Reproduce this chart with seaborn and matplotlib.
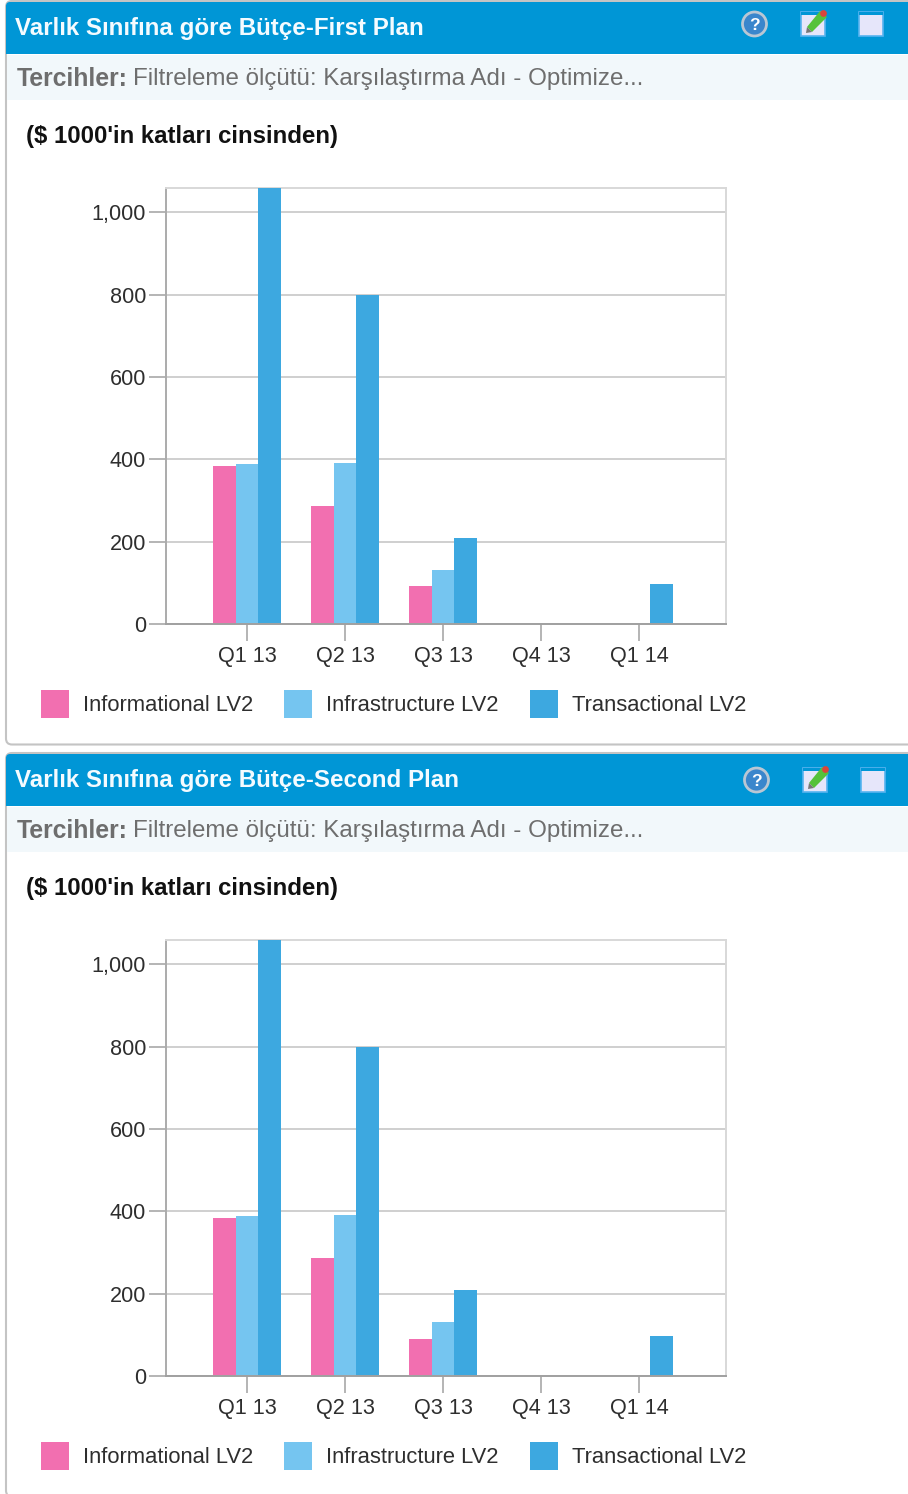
import matplotlib
matplotlib.use("Agg")
import matplotlib.pyplot as plt
from matplotlib.patches import Rectangle, FancyBboxPatch, Circle, Polygon
import pandas as pd
import seaborn as sns

W, H = 908, 1494
quarters = ["Q1 13", "Q2 13", "Q3 13", "Q4 13", "Q1 14"]
series_names = ["Informational LV2", "Infrastructure LV2", "Transactional LV2"]
first_info = [384, 286, 92, 0, 0]
first_infra = [388, 392, 131, 0, 0]
first_trans = [1075, 800, 208, 0, 97]
second_info = [384, 286, 91, 0, 0]
second_infra = [388, 392, 130, 0, 0]
second_trans = [1075, 799, 208, 0, 97]
titles = ["Varlık Sınıfına göre Bütçe-First Plan", "Varlık Sınıfına göre Bütçe-Second Plan"]
pref_bold = "Tercihler:"
pref_rest = "Filtreleme ölçütü: Karşılaştırma Adı - Optimize..."
unit_note = "($ 1000'in katları cinsinden)"
yticks = [0, 200, 400, 600, 800, 1000]
colors = ["#F26FB0", "#75C5F0", "#3DA8E0"]

sns.set_theme(style="white")
plt.rcParams["font.family"] = ["Liberation Sans", "DejaVu Sans"]

fig = plt.figure(figsize=(W / 100, H / 100), dpi=100, facecolor="white")
bg = fig.add_axes([0, 0, 1, 1], zorder=0)
bg.set_xlim(0, W)
bg.set_ylim(H, 0)
bg.axis("off")


def panel(offset, title, values, icon_dx, icon_dy):
    o = offset
    bg.add_patch(FancyBboxPatch((6, o + 1), 930, 743.5, boxstyle="round,pad=0,rounding_size=6",
                                fc="white", ec="#C4C4C4", lw=1.5))
    bg.add_patch(FancyBboxPatch((6, o + 2), 930, 30, boxstyle="round,pad=0,rounding_size=4",
                                fc="#0096D6", ec="none"))
    bg.add_patch(Rectangle((6, o + 20), 902, 34, fc="#0096D6", ec="none"))
    bg.add_patch(Rectangle((7, o + 55), 901, 45, fc="#F2F8FB", ec="none"))
    bg.text(15, o + 28.5, title, color="#F4FBFF", fontsize=17.4, fontweight="bold", va="center")
    bg.text(17, o + 79, pref_bold, color="#6E6E6E", fontsize=17.8, fontweight="bold", va="center")
    bg.text(133, o + 79, pref_rest, color="#6E6E6E", fontsize=17.4, va="center")
    bg.text(26, o + 136, unit_note, color="#111111", fontsize=17.3, fontweight="bold", va="center")

    # header icons
    dx, dy = icon_dx, icon_dy
    bg.add_patch(Circle((754.5 + dx, o + 24 + dy), 12, fc="#3A86CC", ec="#B9C7D4", lw=2))
    bg.text(754.5 + dx, o + 25 + dy, "?", color="white", fontsize=12.5, fontweight="bold", ha="center", va="center")
    for x in (801 + dx, 859 + dx):
        bg.add_patch(Rectangle((x, o + 12 + dy), 24, 24, fc="#E6E6FA", ec="#58B4F0", lw=1.2))
        bg.add_patch(Rectangle((x, o + 12 + dy), 24, 3, fc="#0096D6", ec="none"))
    bg.add_patch(Polygon([[807 + dx, o + 27 + dy], [820 + dx, o + 11 + dy], [827 + dx, o + 17 + dy], [812 + dx, o + 32 + dy]],
                         fc="#55C23A", ec="none"))
    bg.add_patch(Polygon([[807 + dx, o + 27 + dy], [812 + dx, o + 32 + dy], [806 + dx, o + 33 + dy]], fc="#777777", ec="none"))
    bg.add_patch(Circle((823.5 + dx, o + 13.5 + dy), 3.4, fc="#D8453A", ec="none"))

    # chart
    left, right, top, bottom = 166, 726, o + 188, o + 624
    ax = fig.add_axes([left / W, 1 - bottom / H, (right - left) / W, (bottom - top) / H], zorder=1)
    ax.patch.set_alpha(0)
    df = pd.DataFrame({"quarter": quarters * 3,
                       "series": [s for s in series_names for _ in quarters],
                       "value": [v for vs in values for v in vs]})
    sns.barplot(data=df, x="quarter", y="value", hue="series", order=quarters, hue_order=series_names,
                palette=colors, saturation=1, width=0.695, gap=0, errorbar=None, ax=ax, zorder=3,
                legend=False, linewidth=0, edgecolor="none")
    ax.set_xlim(-0.827, 4.888)
    ax.set_ylim(0, 1059)
    ax.set_xlabel("")
    ax.set_ylabel("")
    ax.set_yticks(yticks)
    ax.set_yticklabels([f"{v:,}" for v in yticks])
    ax.yaxis.grid(True, color="#CFCFCF", lw=1.4, zorder=0)
    ax.set_axisbelow(True)
    ax.tick_params(axis="both", length=12, width=1.2, color="#A8A8A8", labelcolor="#2E2E2E",
                   labelsize=15.6, pad=2.3, left=True, bottom=True)
    ax.tick_params(axis="x", pad=3.8)
    for name, col in (("top", "#D8D8D8"), ("right", "#D8D8D8"), ("left", "#ABABAB"), ("bottom", "#A0A0A0")):
        ax.spines[name].set_visible(True)
        ax.spines[name].set_color(col)
        ax.spines[name].set_linewidth(1.4)
    ax.spines["bottom"].set_zorder(5)

    # legend
    handles = [Rectangle((0, 0), 1, 1, fc=c, ec="none") for c in colors]
    fs = 15.8
    fpx = fs / 0.72
    ax.legend(handles, series_names, ncol=3, frameon=False, fontsize=fs,
              loc="upper left", bbox_to_anchor=((41 - left) / (right - left), -(o + 690 - bottom) / (bottom - top)),
              handlelength=28 / fpx, handleheight=1.586, handletextpad=14 / fpx,
              columnspacing=31 / fpx, borderpad=0, borderaxespad=0, labelcolor="#2E2E2E")


panel(0, titles[0], [first_info, first_infra, first_trans], 0, 0)
panel(752, titles[1], [second_info, second_infra, second_trans], 2, 4)
fig.savefig("out.png", dpi=100)
